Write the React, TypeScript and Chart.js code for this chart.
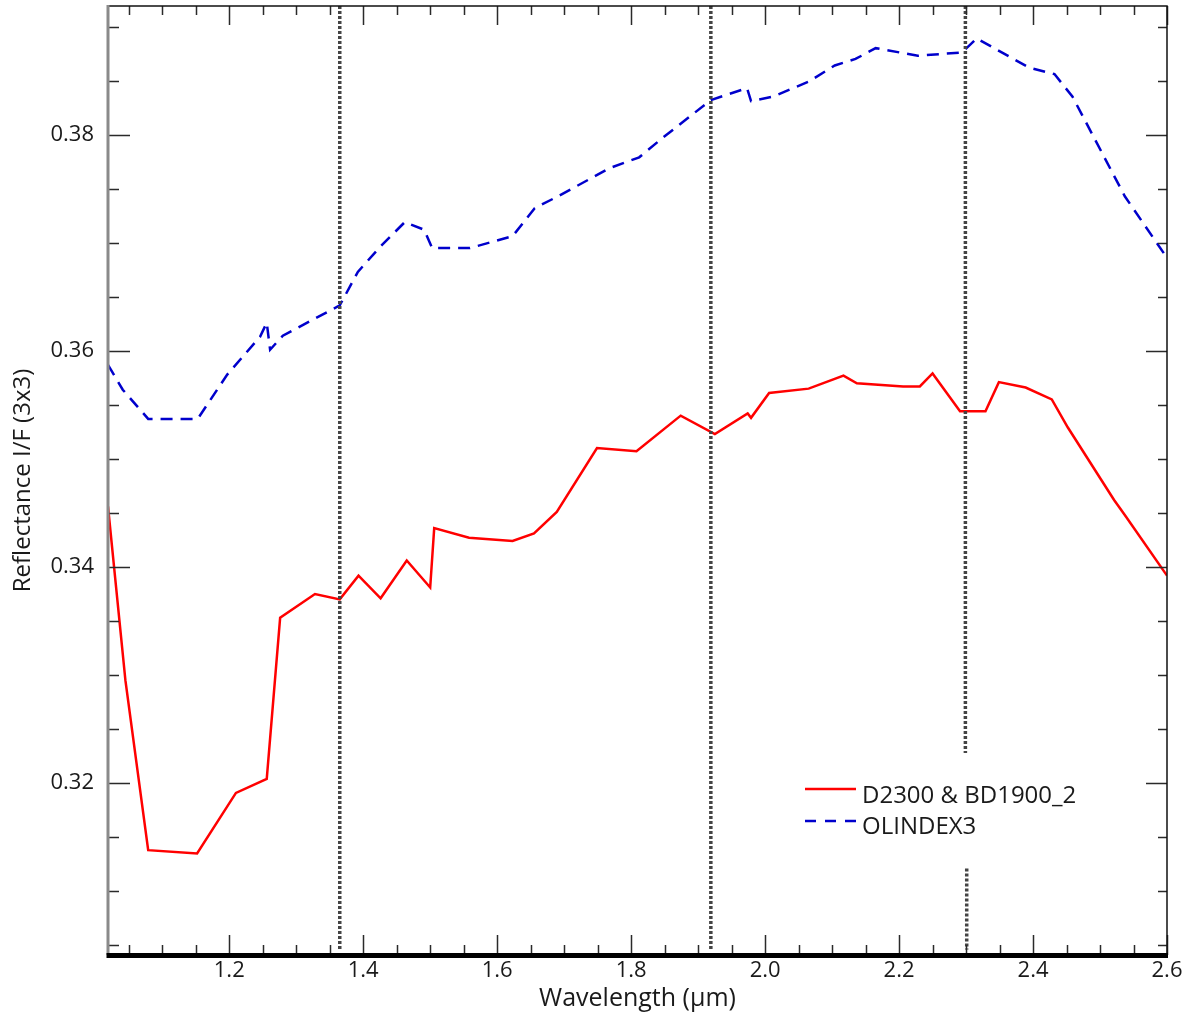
import React, { useEffect, useRef } from 'react';
import { Chart, registerables } from 'chart.js';

Chart.register(...registerables);

// ---------- data ----------
const redLabel = 'D2300 & BD1900_2';
const redWavelength = [1.019, 1.045, 1.079, 1.152, 1.210, 1.256, 1.276, 1.328, 1.365, 1.393, 1.426, 1.465, 1.500, 1.506, 1.558, 1.623, 1.655, 1.689, 1.749, 1.808, 1.874, 1.925, 1.974, 1.979, 2.006, 2.065, 2.117, 2.137, 2.206, 2.231, 2.250, 2.291, 2.329, 2.349, 2.389, 2.428, 2.452, 2.521, 2.537, 2.600];
const redReflectance = [0.3456, 0.3295, 0.3138, 0.3135, 0.3191, 0.3204, 0.3353, 0.3375, 0.3370, 0.3392, 0.3371, 0.3406, 0.3381, 0.3436, 0.3427, 0.3424, 0.3431, 0.3451, 0.3510, 0.3507, 0.3540, 0.3523, 0.3542, 0.3538, 0.3561, 0.3565, 0.3577, 0.3570, 0.3567, 0.3567, 0.3579, 0.3544, 0.3544, 0.3571, 0.3566, 0.3555, 0.3529, 0.3462, 0.3448, 0.3392];

const blueLabel = 'OLINDEX3';
const blueWavelength = [1.019, 1.041, 1.079, 1.153, 1.197, 1.246, 1.256, 1.261, 1.280, 1.365, 1.392, 1.425, 1.462, 1.491, 1.503, 1.559, 1.623, 1.656, 1.691, 1.768, 1.812, 1.849, 1.919, 1.973, 1.979, 2.011, 2.065, 2.104, 2.135, 2.165, 2.228, 2.294, 2.316, 2.394, 2.432, 2.459, 2.537, 2.600];
const blueReflectance = [0.3587, 0.3564, 0.3537, 0.3537, 0.3578, 0.3613, 0.3626, 0.3601, 0.3614, 0.3642, 0.3673, 0.3696, 0.3719, 0.3712, 0.3695, 0.3695, 0.3706, 0.3732, 0.3743, 0.3769, 0.3779, 0.3798, 0.3832, 0.3843, 0.3831, 0.3835, 0.3849, 0.3864, 0.3870, 0.3880, 0.3873, 0.3876, 0.3889, 0.3862, 0.3856, 0.3835, 0.3743, 0.3686];

// vertical dotted marker lines (wavelengths), each with its y extent segments
const markerWavelengths = [1.365, 1.919, 2.299];
const markerTop = 0.3919;
const markerBottom = 0.3046;
const markerGapLow = 0.3121; // third marker is interrupted behind the legend
const markerGapHigh = 0.3228;

const xMin = 1.019;
const xMax = 2.6;
const yMin = 0.3041;
const yMax = 0.3919;

const xTickValues = [1.2, 1.4, 1.6, 1.8, 2.0, 2.2, 2.4, 2.6];
const xTickLabels = ['1.2', '1.4', '1.6', '1.8', '2.0', '2.2', '2.4', '2.6'];
const xMinorTicks = [1.05, 1.1, 1.15, 1.25, 1.3, 1.35, 1.45, 1.5, 1.55, 1.65, 1.7, 1.75, 1.85, 1.9, 1.95, 2.05, 2.1, 2.15, 2.25, 2.3, 2.35, 2.45, 2.5, 2.55];
const yTickValues = [0.32, 0.34, 0.36, 0.38];
const yTickLabels = ['0.32', '0.34', '0.36', '0.38'];
const yMinorTicks = [0.305, 0.31, 0.315, 0.325, 0.33, 0.335, 0.345, 0.35, 0.355, 0.365, 0.37, 0.375, 0.385, 0.39];

const xTitle = 'Wavelength (µm)';
const yTitle = 'Reflectance I/F (3x3)';

const FONT = '"Open Sans", "DejaVu Sans", sans-serif';

const framePlugin = {
  id: 'frameAndLegend',
  afterDatasetsDraw(chart: any) {
    const { ctx, chartArea: ca, scales } = chart;
    const xs = scales.x;
    const ys = scales.y;
    ctx.save();
    // ticks
    ctx.strokeStyle = '#2a2a2a';
    ctx.lineWidth = 1.5;
    const drawXTicks = (vals: number[], topLen: number, botLen: number) => {
      vals.forEach((v) => {
        const px = Math.round(xs.getPixelForValue(v)) + 0.5;
        ctx.beginPath();
        ctx.moveTo(px, ca.top);
        ctx.lineTo(px, ca.top + topLen);
        ctx.moveTo(px, ca.bottom);
        ctx.lineTo(px, ca.bottom - botLen);
        ctx.stroke();
      });
    };
    const drawYTicks = (vals: number[], leftLen: number, rightLen: number) => {
      vals.forEach((v) => {
        const py = Math.round(ys.getPixelForValue(v)) + 0.5;
        ctx.beginPath();
        ctx.moveTo(ca.left, py);
        ctx.lineTo(ca.left + leftLen, py);
        ctx.moveTo(ca.right, py);
        ctx.lineTo(ca.right - rightLen, py);
        ctx.stroke();
      });
    };
    drawXTicks(xTickValues, 19, 20);
    drawXTicks(xMinorTicks, 9, 10);
    drawYTicks(yTickValues, 22, 21);
    drawYTicks(yMinorTicks, 11, 9);

    // frame
    ctx.strokeStyle = '#111';
    ctx.lineWidth = 1.5;
    ctx.beginPath();
    ctx.moveTo(ca.left, ca.top);
    ctx.lineTo(ca.right, ca.top);
    ctx.lineTo(ca.right, ca.bottom);
    ctx.stroke();
    ctx.strokeStyle = '#8a8a8a';
    ctx.lineWidth = 3;
    ctx.beginPath();
    ctx.moveTo(ca.left, ca.top - 1);
    ctx.lineTo(ca.left, ca.bottom);
    ctx.stroke();
    ctx.strokeStyle = '#000';
    ctx.lineWidth = 5;
    ctx.beginPath();
    ctx.moveTo(ca.left - 1.5, ca.bottom + 0.5);
    ctx.lineTo(ca.right + 1, ca.bottom + 0.5);
    ctx.stroke();

    // legend
    const lx = ca.left + 697;
    const ly = ca.top + 783;
    ctx.lineWidth = 2.5;
    ctx.strokeStyle = '#ff0000';
    ctx.setLineDash([]);
    ctx.beginPath();
    ctx.moveTo(lx, ly);
    ctx.lineTo(lx + 51, ly);
    ctx.stroke();
    ctx.strokeStyle = '#0000cc';
    ctx.setLineDash([11, 9]);
    ctx.beginPath();
    ctx.moveTo(lx, ly + 32);
    ctx.lineTo(lx + 51, ly + 32);
    ctx.stroke();
    ctx.setLineDash([]);
    ctx.fillStyle = '#1a1a1a';
    ctx.font = '24px ' + FONT;
    ctx.textBaseline = 'alphabetic';
    ctx.textAlign = 'left';
    ctx.fillText(chart.data.datasets[0].label, lx + 57, ly + 14);
    ctx.fillText(chart.data.datasets[1].label, lx + 57, ly + 45);
    ctx.restore();
  },
};

const toPoints = (xs: number[], ys: number[]) => xs.map((x, i) => ({ x, y: ys[i] }));

export default function App() {
  const ref = useRef<HTMLCanvasElement | null>(null);
  useEffect(() => {
    if (!ref.current) return;
    const markerSets = markerWavelengths.map((w, i) => {
      const data =
        i === markerWavelengths.length - 1
          ? [
              { x: w, y: markerTop },
              { x: w, y: markerGapHigh },
              { x: w, y: null },
              { x: w + 0.002, y: markerGapLow },
              { x: w + 0.002, y: markerBottom },
            ]
          : [
              { x: w, y: markerTop },
              { x: w, y: markerBottom },
            ];
      return {
        label: 'marker' + i,
        data,
        borderColor: '#444444',
        borderWidth: 3.5,
        borderDash: [3, 2],
        pointRadius: 0,
        spanGaps: false,
        order: 0,
      };
    });
    const chart = new Chart(ref.current, {
      type: 'line',
      data: {
        datasets: [
          {
            label: redLabel,
            data: toPoints(redWavelength, redReflectance),
            borderColor: '#ff0000',
            borderWidth: 2.5,
            pointRadius: 0,
            tension: 0,
            order: 1,
          },
          {
            label: blueLabel,
            data: toPoints(blueWavelength, blueReflectance),
            borderColor: '#0000cc',
            borderWidth: 2.5,
            borderDash: [12, 8],
            pointRadius: 0,
            tension: 0,
            order: 1,
          },
          ...markerSets,
        ] as any,
      },
      options: {
        animation: false,
        responsive: true,
        maintainAspectRatio: false,
        devicePixelRatio: 1,
        layout: { autoPadding: false, padding: { top: 6, right: 24, bottom: 0, left: 0 } },
        plugins: { legend: { display: false }, tooltip: { enabled: false } },
        elements: { point: { radius: 0 } },
        scales: {
          x: {
            type: 'linear',
            min: xMin,
            max: xMax,
            grid: { display: false, drawTicks: false },
            border: { display: false },
            afterBuildTicks: (s: any) => {
              s.ticks = xTickValues.map((v) => ({ value: v }));
            },
            afterFit: (s: any) => {
              s.height = 59;
              s.paddingLeft = 0;
              s.paddingRight = 0;
              s.paddingTop = 0;
              s.paddingBottom = 0;
            },
            ticks: {
              autoSkip: false,
              maxRotation: 0,
              padding: 3,
              color: '#1a1a1a',
              font: { family: FONT, size: 22 },
              callback: (_v: any, i: number) => xTickLabels[i],
            },
            title: {
              display: true,
              text: xTitle,
              color: '#1a1a1a',
              font: { family: FONT, size: 25 },
              padding: { top: 0, bottom: 0 },
            },
          },
          y: {
            type: 'linear',
            min: yMin,
            max: yMax,
            grid: { display: false, drawTicks: false },
            border: { display: false },
            afterBuildTicks: (s: any) => {
              s.ticks = yTickValues.map((v) => ({ value: v }));
            },
            afterFit: (s: any) => {
              s.width = 108;
              s.paddingLeft = 0;
              s.paddingRight = 0;
              s.paddingTop = 0;
              s.paddingBottom = 0;
            },
            ticks: {
              autoSkip: false,
              padding: 14,
              color: '#1a1a1a',
              font: { family: FONT, size: 22 },
              callback: (_v: any, i: number) => yTickLabels[i],
            },
            title: {
              display: true,
              text: yTitle,
              color: '#1a1a1a',
              font: { family: FONT, size: 24 },
              padding: { top: 9, bottom: 0 },
            },
          },
        },
      } as any,
      plugins: [framePlugin],
    });
    return () => chart.destroy();
  }, []);
  return (
    <div style={{ position: 'absolute', left: 0, top: 0, width: 1191, height: 1014, background: '#fff' }}>
      <canvas ref={ref} />
    </div>
  );
}
